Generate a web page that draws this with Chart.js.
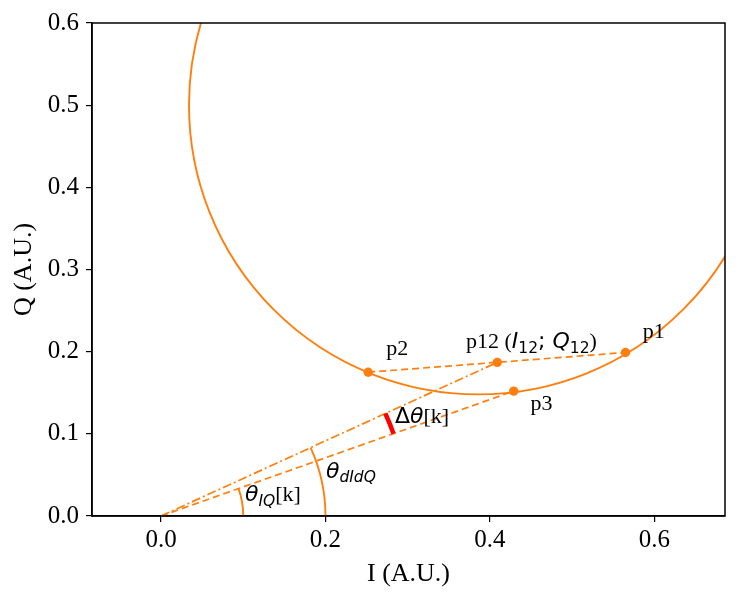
<!DOCTYPE html>
<html>
<head>
<meta charset="utf-8">
<script src="https://cdn.jsdelivr.net/npm/chart.js@4.4.1/dist/chart.umd.min.js"></script>
<style>
  html, body { margin: 0; padding: 0; background: #fff; }
  #wrap { width: 739px; height: 600px; }
</style>
</head>
<body>
<div id="wrap"><canvas id="iqChart" width="739" height="600"></canvas></div>
<script>
// axes
const xTicks = [0.0, 0.2, 0.4, 0.6];
const yTicks = [0.0, 0.1, 0.2, 0.3, 0.4, 0.5, 0.6];
const xRange = [-0.084, 0.686];
const yRange = [0.0, 0.6];

// IQ circle
const circleCenter = [0.386, 0.5];
const circleRadius = 0.352;

// points: p1, p2, p12, p3
const pointNames = ["p1", "p2", "p12", "p3"];
const pointI = [0.565, 0.252, 0.409, 0.429];
const pointQ = [0.199, 0.175, 0.187, 0.152];

// arc radii: theta_IQ, theta_dIdQ, delta theta
const arcRadii = [0.1, 0.2, 0.3];

// text anchors (data coords, left / baseline)
const labelI = [0.586, 0.274, 0.371, 0.4495, 0.2845, 0.2006, 0.1021];
const labelQ = [0.217, 0.196, 0.2044, 0.129, 0.1135, 0.0467, 0.0178];

const ORANGE = "#ff7f0e";
const SERIF = "'Liberation Serif', 'Times New Roman', serif";
const fSerif = "22px " + SERIF;
const fIt = "italic 22px 'DejaVu Sans'";
const fUp = "22px 'DejaVu Sans'";
const fSubIt = "italic 15.5px 'DejaVu Sans'";
const fSubUp = "15.5px 'DejaVu Sans'";
const SUB = 4.5;

const labelParts = [
  [["p1", fSerif]],
  [["p2", fSerif]],
  [["p12 (", fSerif], ["I", fIt], ["12", fSubUp, SUB], ["; ", fUp], ["Q", fIt], ["12", fSubUp, SUB], [")", fSerif]],
  [["p3", fSerif]],
  [["\u0394", fUp], ["\u03b8", fIt], ["[k]", fSerif]],
  [["\u03b8", fIt], ["dIdQ", fSubIt, SUB]],
  [["\u03b8", fIt], ["IQ", fSubIt, SUB], ["[k]", fSerif]]
];

function drawRich(ctx, x0, y0, parts) {
  let x = x0;
  parts.forEach(p => {
    ctx.font = p[1];
    ctx.fillText(p[0], x, y0 + (p[2] || 0));
    x += ctx.measureText(p[0]).width;
  });
}

function arcPath(chart, r, a0, a1) {
  const {x, y} = chart.scales;
  const ox = x.getPixelForValue(0), oy = y.getPixelForValue(0);
  const rX = x.getPixelForValue(r) - ox;
  const rY = oy - y.getPixelForValue(r);
  const ctx = chart.ctx;
  ctx.beginPath();
  ctx.ellipse(ox, oy, rX, rY, 0, -a1, -a0, false);
  ctx.stroke();
}

const shapesPlugin = {
  id: "shapes",
  beforeDatasetsDraw(chart) {
    const {ctx, chartArea: a, scales: {x, y}} = chart;
    ctx.save();
    ctx.beginPath();
    ctx.rect(a.left, a.top, a.right - a.left, a.bottom - a.top);
    ctx.clip();
    const cx = x.getPixelForValue(circleCenter[0]);
    const cy = y.getPixelForValue(circleCenter[1]);
    const rx = x.getPixelForValue(circleCenter[0] + circleRadius) - cx;
    const ry = cy - y.getPixelForValue(circleCenter[1] + circleRadius);
    ctx.strokeStyle = ORANGE;
    ctx.lineWidth = 1.9;
    ctx.beginPath();
    ctx.ellipse(cx, cy, rx, ry, 0, 0, 2 * Math.PI);
    ctx.stroke();
    const angIQ = Math.atan2(pointQ[3], pointI[3]);
    const angD = Math.atan2(pointQ[2], pointI[2]);
    arcPath(chart, arcRadii[0], 0, angIQ);
    arcPath(chart, arcRadii[1], 0, angD);
    ctx.restore();
  },
  afterDatasetsDraw(chart) {
    const {ctx, chartArea: a, scales: {x, y}} = chart;
    ctx.save();
    // delta theta
    const angIQ = Math.atan2(pointQ[3], pointI[3]);
    const angD = Math.atan2(pointQ[2], pointI[2]);
    ctx.strokeStyle = "#ff0000";
    ctx.lineWidth = 4.5;
    arcPath(chart, arcRadii[2], angIQ, angD);
    // frame
    ctx.strokeStyle = "#000";
    ctx.lineWidth = 1.5;
    ctx.strokeRect(a.left, a.top, a.right - a.left, a.bottom - a.top);
    // labels
    ctx.fillStyle = "#000";
    ctx.textAlign = "left";
    ctx.textBaseline = "alphabetic";
    labelParts.forEach((parts, i) => {
      drawRich(ctx, x.getPixelForValue(labelI[i]), y.getPixelForValue(labelQ[i]), parts);
    });
    ctx.restore();
  }
};

const tickFont = {family: SERIF, size: 25};
const titleFont = {family: SERIF, size: 26};

const lineStyle = {showLine: true, borderColor: ORANGE, borderWidth: 1.7, pointRadius: 0, fill: false};

const chartCanvas = document.getElementById("iqChart");
const iqChart = new Chart(chartCanvas, {
  type: "scatter",
  data: {
    datasets: [
      Object.assign({label: "p2-p1", borderDash: [7, 4],
        data: [{x: pointI[1], y: pointQ[1]}, {x: pointI[0], y: pointQ[0]}]}, lineStyle),
      Object.assign({label: "0-p12", borderDash: [9, 3, 2, 3],
        data: [{x: 0, y: 0}, {x: pointI[2], y: pointQ[2]}]}, lineStyle),
      Object.assign({label: "0-p3", borderDash: [7, 4],
        data: [{x: 0, y: 0}, {x: pointI[3], y: pointQ[3]}]}, lineStyle),
      {
        label: "points",
        data: pointI.map((v, i) => ({x: v, y: pointQ[i]})),
        pointRadius: 4.7,
        pointBackgroundColor: ORANGE,
        pointBorderWidth: 0,
        showLine: false
      }
    ]
  },
  options: {
    responsive: false,
    animation: false,
    layout: {padding: {top: 23, right: 14, left: 0, bottom: 0}},
    plugins: {legend: {display: false}, tooltip: {enabled: false}},
    scales: {
      x: {
        type: "linear",
        min: xRange[0],
        max: xRange[1],
        afterBuildTicks: s => { s.ticks = xTicks.map(v => ({value: v})); },
        afterFit: s => { s.height = 84; },
        ticks: {callback: v => v.toFixed(1), font: tickFont, color: "#000", padding: 3, maxRotation: 0, autoSkip: false},
        grid: {drawOnChartArea: false, tickLength: 6, color: "#000", lineWidth: 1.2},
        border: {color: "#000", width: 1.5},
        title: {display: true, text: "I (A.U.)", font: titleFont, color: "#000", padding: {top: 0, bottom: 10}}
      },
      y: {
        type: "linear",
        min: yRange[0],
        max: yRange[1],
        afterBuildTicks: s => { s.ticks = yTicks.map(v => ({value: v})); },
        afterFit: s => { s.width = 92; },
        ticks: {callback: v => v.toFixed(1), font: tickFont, color: "#000", padding: 7, autoSkip: false},
        grid: {drawOnChartArea: false, tickLength: 6, color: "#000", lineWidth: 1.2},
        border: {color: "#000", width: 1.5},
        title: {display: true, text: "Q (A.U.)", font: titleFont, color: "#000", padding: {top: 9, bottom: 0}}
      }
    }
  },
  plugins: [shapesPlugin]
});
</script>
</body>
</html>
